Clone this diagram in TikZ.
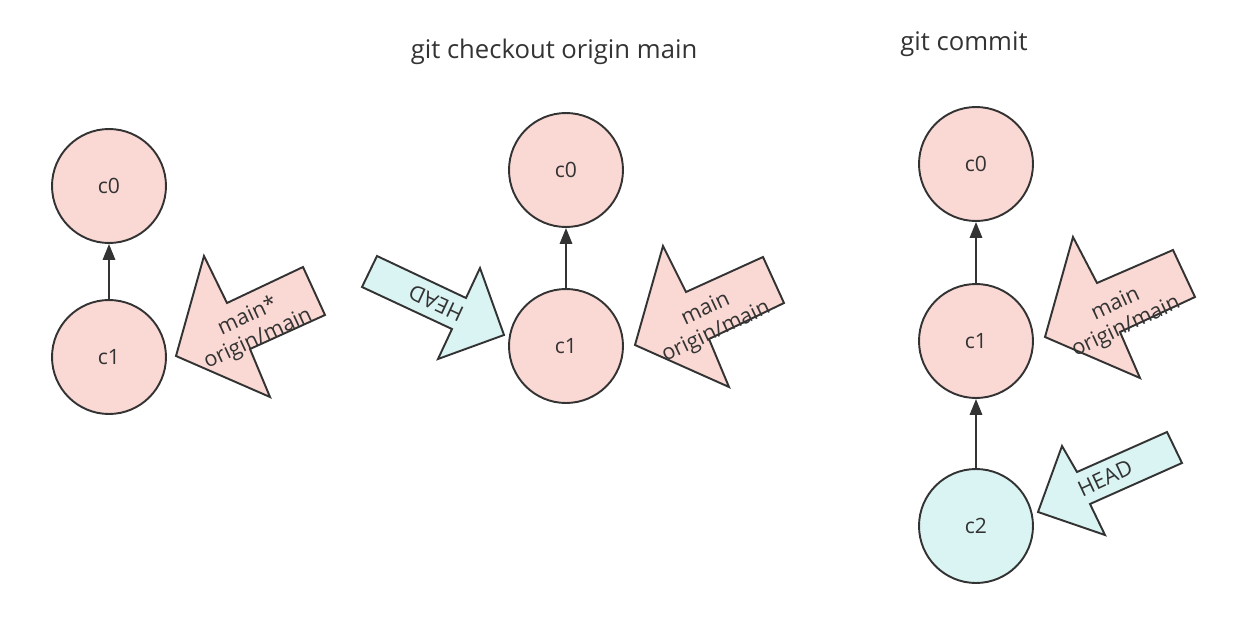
\documentclass[tikz,border=0pt]{standalone}
\usepackage{fontspec}
\setmainfont{Open Sans}
\usetikzlibrary{arrows.meta}
\definecolor{pinkfill}{HTML}{FAD9D5}
\definecolor{cyanfill}{HTML}{DAF4F4}
\definecolor{ink}{HTML}{333333}
\begin{document}
\begin{tikzpicture}[x=0.02cm,y=-0.02cm,
  commit/.style={circle,draw=ink,line width=1.1pt,minimum size=2.28cm,inner sep=0pt,font=\fontsize{12}{14}\selectfont,text=ink},
  pinkc/.style={commit,fill=pinkfill},
  cyanc/.style={commit,fill=cyanfill},
  parent/.style={draw=ink,line width=1.1pt,-{Triangle[width=7pt,length=9pt]}},
  blockarrow/.style={draw=ink,line width=1.1pt,line join=miter},
  blocklabel/.style={text=ink,align=center,font=\fontsize{12.3}{14}\selectfont,inner sep=0pt},
  title/.style={text=ink,font=\fontsize{14.6}{17}\selectfont}]
\useasboundingbox (0,0) rectangle (1252,619);
% titles
\node[title] (t1) at (554,52) {git checkout origin main};
\node[title] (t2) at (964,44) {git commit};
% column 1
\node[pinkc] (a0) at (109,186) {c0};
\node[pinkc] (a1) at (109,357) {c1};
\draw[parent] (a1) -- (a0);
\draw[blockarrow,fill=pinkfill] (270,397) -- (176,356) -- (204,256) -- (227,303) -- (303,267) -- (325,315) -- (250,349) -- cycle;
\node[blocklabel,rotate=25] (l1) at (253,328) {main*\\origin/main};
% column 2
\node[pinkc] (b0) at (566,170) {c0};
\node[pinkc] (b1) at (566,346) {c1};
\draw[parent] (b1) -- (b0);
\draw[blockarrow,fill=cyanfill] (377,256) -- (466,298) -- (480,268) -- (504,335) -- (438,359) -- (452,329) -- (362,287) -- cycle;
\node[blocklabel,rotate=155] (l2) at (436,303) {HEAD};
\draw[blockarrow,fill=pinkfill] (729,387) -- (635,345) -- (663,246) -- (686,292) -- (763,257) -- (784,303) -- (709,339) -- cycle;
\node[blocklabel,rotate=25] (l3) at (711,321) {main\\origin/main};
% column 3
\node[pinkc] (c0) at (976,164) {c0};
\node[pinkc] (c1) at (976,341) {c1};
\node[cyanc] (c2) at (976,526) {c2};
\draw[parent] (c1) -- (c0);
\draw[parent] (c2) -- (c1);
\draw[blockarrow,fill=pinkfill] (1140,378) -- (1045,337) -- (1073,237) -- (1097,283) -- (1173,250) -- (1195,297) -- (1120,332) -- cycle;
\node[blocklabel,rotate=25] (l4) at (1121,316) {main\\origin/main};
\draw[blockarrow,fill=cyanfill] (1038,512) -- (1062,446) -- (1077,472) -- (1167,432) -- (1182,463) -- (1090,504) -- (1105,535) -- cycle;
\node[blocklabel,rotate=25] (l5) at (1105,478) {HEAD};
\end{tikzpicture}
\end{document}
